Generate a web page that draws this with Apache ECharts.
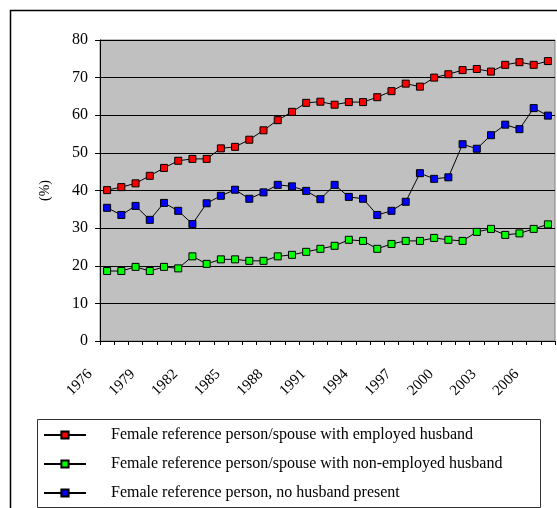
<!DOCTYPE html>
<html><head><meta charset="utf-8">
<script src="https://cdn.jsdelivr.net/npm/echarts@6/dist/echarts.min.js"></script>
<style>html,body{margin:0;padding:0;background:#fff}#c{width:557px;height:508px}</style>
</head><body><div id="c"></div>
<script>
var years = [];
for (var y = 1976; y <= 2007; y++) years.push(String(y));
var employedHusband = [40.1,40.9,41.9,43.9,46.0,47.9,48.4,48.4,51.2,51.6,53.5,56.0,58.7,60.9,63.3,63.6,62.8,63.5,63.5,64.8,66.4,68.4,67.6,70.0,70.9,72.0,72.3,71.6,73.4,74.1,73.4,74.4];
var nonEmployedHusband = [18.6,18.6,19.7,18.6,19.7,19.3,22.5,20.5,21.7,21.7,21.3,21.3,22.5,22.9,23.7,24.5,25.3,26.9,26.6,24.5,25.8,26.6,26.6,27.4,26.9,26.6,29.0,29.8,28.2,28.6,29.8,31.0];
var noHusband = [35.4,33.5,35.9,32.2,36.7,34.6,31.1,36.6,38.6,40.2,37.8,39.5,41.5,41.1,39.9,37.7,41.5,38.3,37.8,33.5,34.6,37.0,44.6,43.1,43.5,52.3,51.1,54.7,57.5,56.3,61.9,59.9];
var seriesNames = ['Female reference person/spouse with employed husband','Female reference person/spouse with non-employed husband','Female reference person, no husband present'];
var seriesColors = ['#FF0000','#00FF00','#0000FF'];
var yTicks = {min:0, max:80, interval:10};

var font = 'Liberation Serif, Times New Roman, serif';
function mk(name, data, color){
  return {name:name, type:'line', data:data, symbol:'rect', symbolSize:7,
    lineStyle:{color:'#000', width:1}, itemStyle:{color:color, borderColor:'#000', borderWidth:1},
    emphasis:{disabled:true}, animation:false};
}
var chart = echarts.init(document.getElementById('c'), null, {renderer:'canvas'});
chart.setOption({
  animation:false,
  backgroundColor:'#fff',
  graphic:[
    {type:'rect', shape:{x:10.5,y:10.5,width:600,height:600}, style:{fill:'none', stroke:'#000', lineWidth:1.5}, z:-1},
    {type:'rect', shape:{x:37.5,y:419.5,width:503,height:88}, style:{fill:'#fff', stroke:'#333', lineWidth:1}, z:-1}
  ],
  grid:{left:100, top:40, right:2, bottom:167, show:true, backgroundColor:'#C0C0C0', borderColor:'#808080', borderWidth:1},
  legend:{orient:'vertical', left:38, top:422, itemWidth:42, itemHeight:9, itemGap:13,
    textStyle:{fontFamily:font, fontSize:16, color:'#000', padding:[0,0,0,20]},
    data:seriesNames},
  xAxis:{type:'category', data:years, boundaryGap:true,
    axisLine:{lineStyle:{color:'#000', width:1}},
    axisTick:{show:true, interval:0, length:4, lineStyle:{color:'#000'}},
    axisLabel:{interval:2, rotate:45, margin:14, padding:[0,24,0,0], fontFamily:font, fontSize:15, color:'#000'},
    splitLine:{show:false}},
  yAxis:{type:'value', min:yTicks.min, max:yTicks.max, interval:yTicks.interval,
    name:'(%)', nameLocation:'middle', nameGap:48, nameRotate:90,
    nameTextStyle:{fontFamily:font, fontSize:14, color:'#000'},
    axisLine:{show:true, lineStyle:{color:'#000', width:1}},
    axisTick:{show:true, length:5, lineStyle:{color:'#000'}},
    axisLabel:{margin:12, fontFamily:font, fontSize:16, color:'#000'},
    splitLine:{show:true, lineStyle:{color:'#000', width:1}}},
  series:[mk(seriesNames[0], employedHusband, seriesColors[0]), mk(seriesNames[1], nonEmployedHusband, seriesColors[1]), mk(seriesNames[2], noHusband, seriesColors[2])]
});
</script></body></html>
